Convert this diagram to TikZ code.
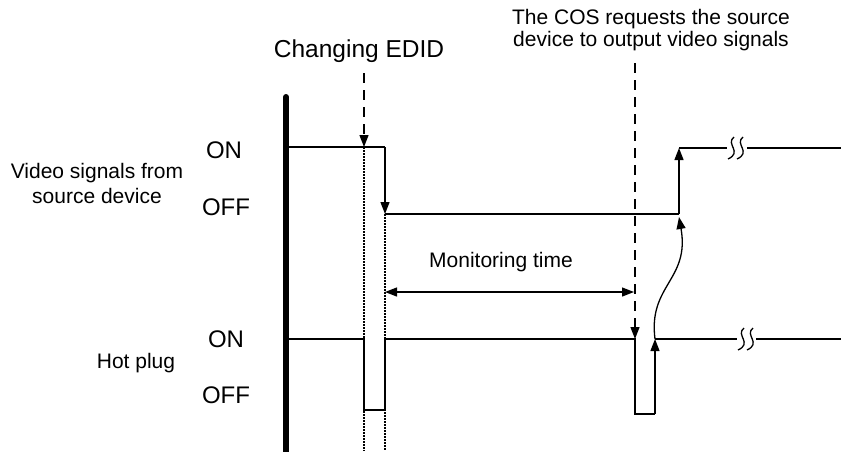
\documentclass[tikz,border=0pt]{standalone}
\usepackage{fontspec}
\setmainfont{Liberation Sans}
\usetikzlibrary{arrows.meta,positioning}

\begin{document}
\begin{tikzpicture}[x=1pt,y=-1pt,
    sig/.style={line width=1.3pt},
    tip/.style={-{Triangle[length=12pt,width=9pt]}},
    lbl/.style={font=\fontsize{21}{25}\selectfont,align=center,inner sep=0pt},
    lvl/.style={font=\fontsize{24}{26}\selectfont,inner sep=0pt,anchor=base},
    guide/.style={line width=1.3pt,dash pattern=on 10pt off 7pt},
    dotline/.style={line width=1.3pt,dash pattern=on 1.5pt off 1.5pt},
    squiggle/.pic={
      \draw[sig] (-2,-11) .. controls (-11,-4) and (7,4) .. (-8,11);
      \draw[sig] (7,-11) .. controls (-2,-4) and (16,4) .. (1,11);
    }]
    \useasboundingbox (0,0) rectangle (841,451);

    \node[font=\fontsize{24.5}{26}\selectfont,inner sep=0pt,anchor=base] (edid) at (359,57) {Changing EDID};
    \node[font=\fontsize{21}{22}\selectfont,align=center,inner sep=0pt] (cos) at (651,30) {The COS requests the source\\device to output video signals};
    \node[lbl] (video) at (97,183) {Video signals from\\source device};
    \node[lbl,anchor=base] (hot) at (136,368) {Hot plug};
    \node[lbl,anchor=base] (mon) at (501,267) {Monitoring time};
    \node[lvl] (vON) at (224,158) {ON};
    \node[lvl] (vOFF) at (226,215) {OFF};
    \node[lvl] (hON) at (226,347) {ON};
    \node[lvl] (hOFF) at (226,403) {OFF};

    \draw[line width=6pt,line cap=round] (286,97) -- (286,458);

    \coordinate (v0) at (289,147);
    \coordinate (v1) at (385,147);
    \coordinate (v2) at (385,214);
    \coordinate (v3) at (679,214);
    \coordinate (v4) at (679,148);
    \coordinate (v5) at (727,148);
    \coordinate (v6) at (747,148);
    \coordinate (v7) at (841,148);
    \draw[sig] (v0) -- (v1);
    \draw[sig,tip] (v1) -- (v2);
    \draw[sig] (v2) -- (v3);
    \draw[sig,tip] (v3) -- (v4);
    \draw[sig] (v4) -- (v5);
    \pic at (736,148) {squiggle};
    \draw[sig] (v6) -- (v7);

    \coordinate (h0) at (289,339);
    \coordinate (h1) at (364,339);
    \coordinate (h2) at (364,410);
    \coordinate (h3) at (385,410);
    \coordinate (h4) at (385,339);
    \coordinate (h5) at (635,339);
    \coordinate (h6) at (635,414);
    \coordinate (h7) at (655,414);
    \coordinate (h8) at (655,339);
    \coordinate (h9) at (737,339);
    \coordinate (h10) at (756,339);
    \coordinate (h11) at (841,339);
    \draw[sig] (h0) -- (h1) -- (h2) -- (h3) -- (h4) -- (h5) -- (h6) -- (h7);
    \draw[sig,tip] (h7) -- (h8);
    \draw[sig] (h8) -- (h9);
    \pic at (746,339) {squiggle};
    \draw[sig] (h10) -- (h11);

    \coordinate (e0) at (364,73);
    \coordinate (e1) at (364,147);
    \coordinate (e2) at (364,451);
    \coordinate (b2) at (385,451);
    \coordinate (c0) at (635,63);
    \coordinate (m0) at (385,292);
    \coordinate (m1) at (634,292);
    \coordinate (r1) at (679,217);
    \draw[guide,tip] (e0) -- (e1);
    \draw[dotline] (e1) -- (e2);
    \draw[dotline] (v2) -- (b2);
    \draw[guide,tip] (c0) -- (h5);
    \draw[sig,{Triangle[length=12pt,width=9pt]}-{Triangle[length=12pt,width=9pt]}] (m0) -- (m1);
    \draw[sig,tip] (h8) .. controls (648,285) and (690,280) .. (r1);
\end{tikzpicture}
\end{document}
